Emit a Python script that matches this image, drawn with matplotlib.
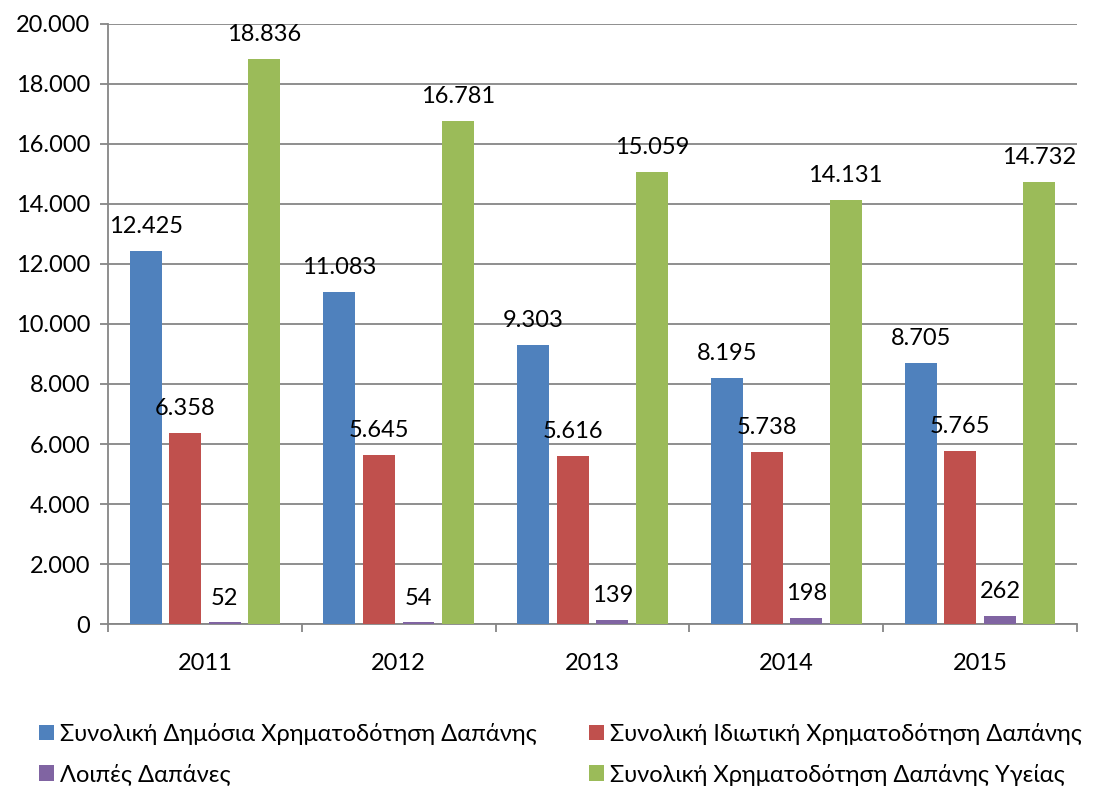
import numpy as np
import matplotlib
matplotlib.use("Agg")
import matplotlib.pyplot as plt
from matplotlib.patches import Patch

years = ["2011", "2012", "2013", "2014", "2015"]
public = [12425, 11083, 9303, 8195, 8705]
private = [6358, 5645, 5616, 5738, 5765]
other = [52, 54, 139, 198, 262]
total = [18836, 16781, 15059, 14131, 14732]

series_names = [
    "Συνολική Δημόσια Χρηματοδότηση Δαπάνης",
    "Συνολική Ιδιωτική Χρηματοδότηση Δαπάνης",
    "Λοιπές Δαπάνες",
    "Συνολική Χρηματοδότηση Δαπάνης Υγείας",
]
colors = ["#4F81BD", "#C0504D", "#8064A2", "#9BBB59"]

plt.rcParams["font.family"] = ["Lato", "DejaVu Sans"]


def fmt(v):
    return f"{v:,}".replace(",", ".")


fig = plt.figure(figsize=(10.99, 7.91), dpi=100)
ax = fig.add_axes([0.0983, 0.2111, 0.8817, 0.7586])

x = np.arange(len(years))
step, width = 0.204, 0.165
handles = []
for i, (vals, col, name) in enumerate(zip([public, private, other, total], colors, series_names)):
    xs = x + (i - 1.5) * step
    ax.bar(xs, vals, width=width, color=col, zorder=3)
    for xi, v in zip(xs, vals):
        ax.annotate(fmt(v), (xi, v), xytext=(0, 10), textcoords="offset points",
                    ha="center", va="bottom", fontsize=17, color="#000000")
    handles.append(Patch(facecolor=col, label=name))

ax.set_xlim(-0.5, 4.5)
ax.set_ylim(0, 20000)
ax.set_yticks(np.arange(0, 20001, 2000))
ax.set_yticklabels([fmt(v) for v in range(0, 20001, 2000)], fontsize=17)
ax.set_xticks(x)
ax.set_xticklabels(years, fontsize=17)
ax.tick_params(axis="x", length=0, pad=21)
ax.set_xticks(np.arange(-0.5, 4.6, 1), minor=True)
ax.tick_params(axis="x", which="minor", length=6, color="#868686", width=1.3)
ax.tick_params(axis="y", length=6, color="#868686", width=1.3, pad=7)

ax.grid(axis="y", color="#868686", linewidth=1.3, zorder=0)
for side in ["top", "right"]:
    ax.spines[side].set_visible(False)
for side in ["left", "bottom"]:
    ax.spines[side].set_color("#868686")
    ax.spines[side].set_linewidth(1.3)

order = [0, 2, 1, 3]
fig.legend([handles[i] for i in order], [series_names[i] for i in order],
           loc="lower left", bbox_to_anchor=(0.016, -0.02), ncol=2, frameon=False,
           fontsize=17, handlelength=0.65, handleheight=0.65, handletextpad=0.25,
           columnspacing=2.2, labelspacing=0.8)

fig.savefig("out.png", dpi=100)
